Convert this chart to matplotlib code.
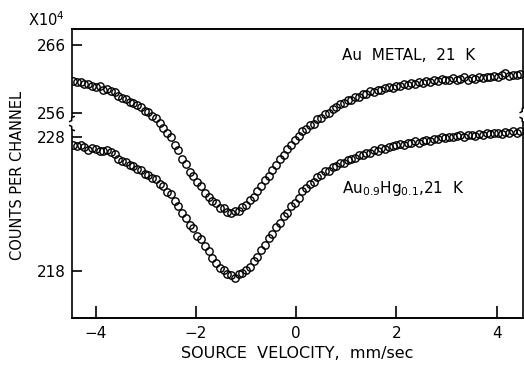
import matplotlib.pyplot as plt
import numpy as np

plt.rcParams['font.family'] = ['DejaVu Sans']
plt.rcParams['mathtext.fontset'] = 'dejavusans'

W, H = 524, 366

# source velocity channels (mm/sec)
velocity = np.linspace(-4.45, 4.475, 120)

# counts per channel, x10^4
au_metal = [
    260.7, 260.5, 260.6, 260.2, 260.3, 260.0, 259.8, 259.9, 259.4, 259.5, 259.2, 259.1,
    258.5, 258.1, 258.0, 257.6, 257.5, 257.1, 256.9, 256.3, 256.1, 255.5, 255.2, 254.5,
    253.8, 253.0, 252.4, 251.2, 250.5, 249.2, 248.4, 247.2, 246.7, 245.7, 245.1, 244.2,
    243.6, 242.9, 242.6, 241.9, 241.9, 241.4, 241.2, 241.5, 241.5, 242.0, 242.3, 243.1,
    243.6, 244.5, 245.1, 246.1, 246.7, 247.6, 248.2, 249.2, 249.8, 250.7, 251.2, 252.0,
    252.5, 253.3, 253.6, 254.2, 254.4, 255.0, 255.2, 255.8, 256.0, 256.6, 256.8, 257.3,
    257.4, 257.9, 257.9, 258.3, 258.3, 258.7, 258.8, 259.2, 259.1, 259.4, 259.3, 259.6,
    259.8, 259.7, 260.0, 259.9, 260.2, 260.1, 260.4, 260.2, 260.6, 260.4, 260.7, 260.6,
    260.8, 260.7, 261.0, 260.8, 260.9, 261.1, 260.9, 261.0, 261.2, 260.9, 261.1, 261.0,
    261.2, 261.1, 261.3, 261.2, 261.4, 261.3, 261.5, 261.9, 261.4, 261.6, 261.5, 261.7,
]
au_hg = [
    227.4, 227.3, 227.35, 227.2, 227.0, 227.15, 227.1, 226.95, 226.9, 227.0, 226.85, 226.7,
    226.35, 226.15, 226.1, 225.85, 225.8, 225.55, 225.5, 225.2, 225.15, 224.9, 224.8, 224.5,
    224.3, 223.9, 223.75, 223.2, 222.85, 222.3, 221.95, 221.4, 221.15, 220.6, 220.35, 219.85,
    219.45, 218.95, 218.6, 218.2, 218.05, 217.75, 217.65, 217.45, 217.75, 217.8, 218.05, 218.25,
    218.7, 219.0, 219.55, 219.9, 220.45, 220.75, 221.25, 221.55, 222.05, 222.3, 222.8, 223.05,
    223.45, 223.95, 224.15, 224.5, 224.65, 225.0, 225.1, 225.4, 225.45, 225.75, 225.8, 226.0,
    226.05, 226.25, 226.3, 226.4, 226.6, 226.65, 226.8, 226.8, 227.0, 226.95, 227.15, 227.1,
    227.25, 227.3, 227.35, 227.45, 227.4, 227.55, 227.5, 227.65, 227.5, 227.7, 227.75, 227.7,
    227.85, 227.8, 227.95, 227.9, 228.0, 227.95, 228.05, 228.1, 228.0, 228.1, 228.15, 228.05,
    228.2, 228.15, 228.25, 228.2, 228.3, 228.25, 228.2, 228.35, 228.3, 228.4, 228.3, 228.4,
]

xticks = [-4, -2, 0, 2, 4]
upper_ticks = [256, 266]
lower_ticks = [218, 228]

fig = plt.figure(figsize=(W / 100, H / 100), dpi=100)
left, right, top, bottom = 71.7, 522.7, 29.3, 318.0
ax = fig.add_axes([left / W, 1 - bottom / H, (right - left) / W, (bottom - top) / H])
ax2 = ax.twinx()

mk = dict(ls='none', marker='o', ms=5.3, mfc='none', mec='black', mew=1.0)
ax.plot(velocity, au_hg, **mk)
ax2.plot(velocity, au_metal, **mk)

ax.set_xlim(-4.48, 4.52)
ax.set_ylim(214.48, 235.99)
ax2.set_ylim(225.67, 268.32)

ax.set_xticks(xticks)
ax.set_xticklabels(['\u22124', '\u22122', '0', '2', '4'])
ax.set_yticks(lower_ticks)
ax2.set_yticks(upper_ticks)
ax2.yaxis.set_ticks_position('left')
ax2.yaxis.set_label_position('left')

for a in (ax, ax2):
    a.tick_params(direction='in', length=7, width=1.2, labelsize=11, pad=4)
    for s in a.spines.values():
        s.set_linewidth(1.2)
ax.tick_params(axis='x', length=9, pad=6)
ax2.spines['right'].set_visible(False)
ax2.spines['left'].set_visible(False)

ax.set_xlabel('SOURCE  VELOCITY,  mm/sec', fontsize=11.5, labelpad=3)
fig.text(18 / W, 1 - 175 / H, 'COUNTS PER CHANNEL', rotation=90,
         fontsize=10.5, ha='center', va='center')
fig.text(28 / W, 1 - 20 / H, 'X10$^4$', fontsize=10.5, ha='left', va='center')


# positions in figure pixels
def px(x, y):
    return x / W, 1 - y / H


fig.text(*px(342, 56), 'Au  METAL,  21  K', fontsize=11, ha='left', va='center')
fig.text(*px(342, 188), 'Au$_{0.9}$Hg$_{0.1}$,21  K', fontsize=11,
         ha='left', va='center')


# axis break marks on the spines
def break_mark(x0, y0, y1):
    fig.add_artist(plt.Line2D(*zip(px(x0, y0), px(x0, y1)), color='white', lw=3))
    for yc, d in ((y0, 1), (y1, -1)):
        xs = [x0 + 2.5, x0, x0, x0 - 2]
        ys = [yc - d * 2.5, yc - d * 1.5, yc + d * 1.5, yc + d * 2.5]
        fig.add_artist(plt.Line2D([p / W for p in xs], [1 - q / H for q in ys],
                                  color='black', lw=1.1))


break_mark(left, 119, 128)
break_mark(right - 0.5, 110, 120)

fig.savefig('out.png', dpi=100)
